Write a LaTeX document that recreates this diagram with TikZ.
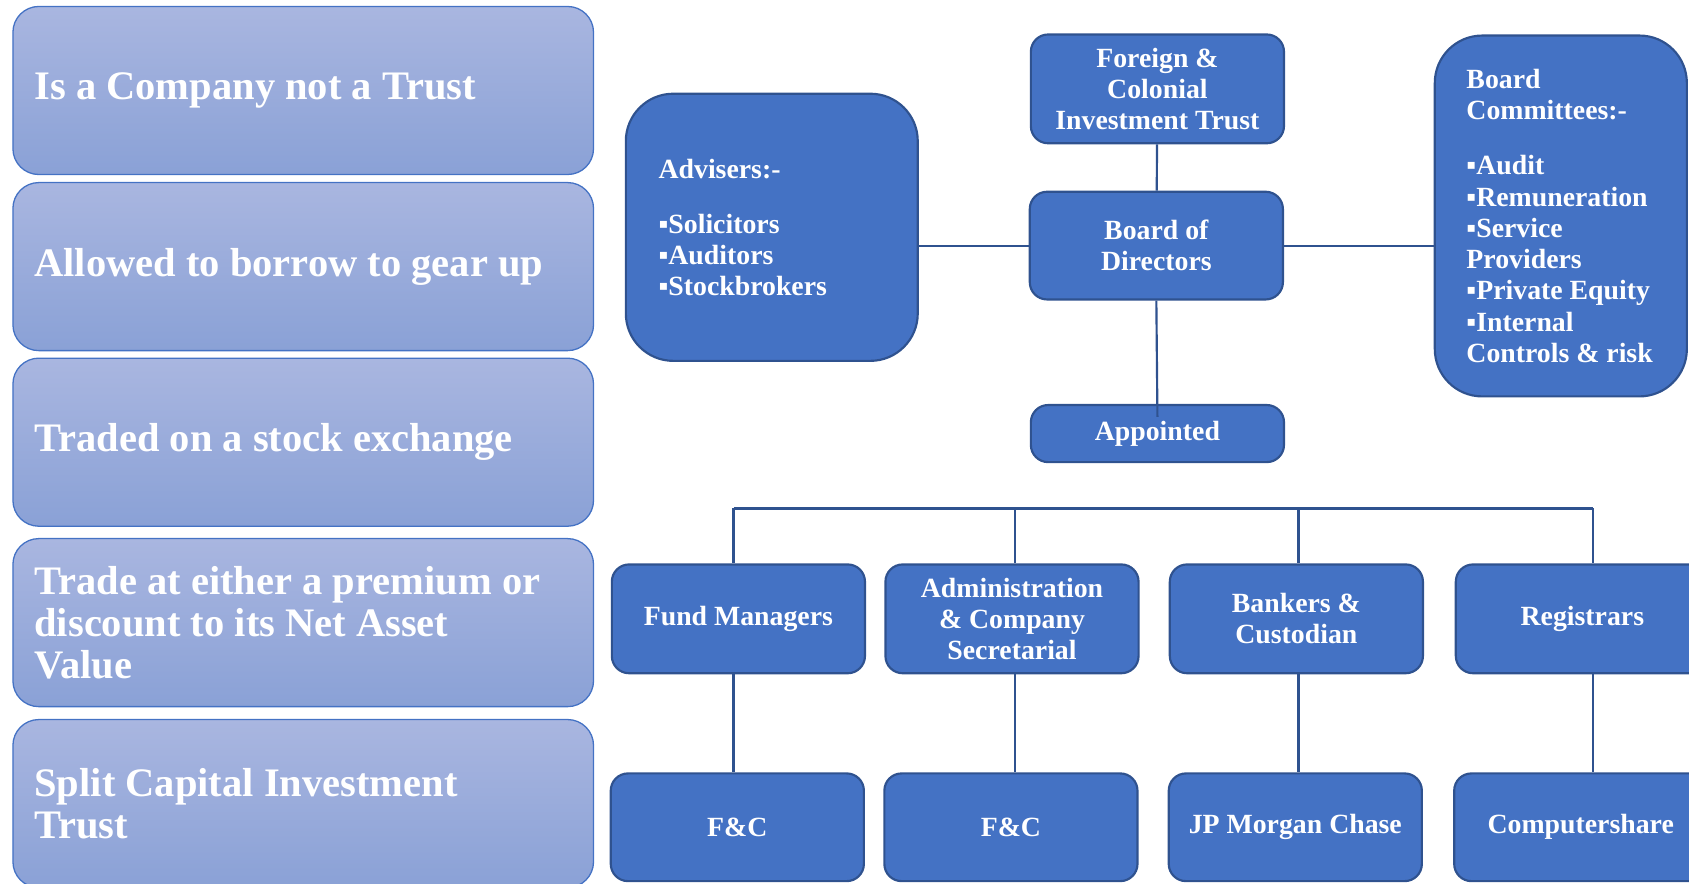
\documentclass[tikz,border=0pt]{standalone}
\usepackage{fontspec}
\setmainfont{Liberation Serif}
\definecolor{boxblue}{HTML}{4472C4}
\definecolor{edgeblue}{HTML}{2F528F}
\definecolor{paletop}{HTML}{A9B6E0}
\definecolor{palebot}{HTML}{8AA1D6}

\begin{document}
\begin{tikzpicture}[x=0.5pt,y=-0.5pt,
  pale/.style={draw=boxblue,line width=0.6pt,top color=paletop,bottom color=palebot,rounded corners=12pt,minimum width=269.5pt,minimum height=78pt,text width=249.5pt,inner xsep=10pt,align=flush left,text=white,font=\fontsize{18.8}{19.5}\selectfont\bfseries},
  dark/.style={draw=edgeblue,line width=1pt,fill=boxblue,rounded corners=8pt,minimum width=117.5pt,minimum height=50pt,align=center,text=white,font=\fontsize{12.9}{14.5}\selectfont\bfseries},
  list/.style={align=left,text=white,inner sep=0pt,font=\fontsize{12.9}{14.5}\selectfont\bfseries},
  link/.style={draw=edgeblue,line width=1pt}]
\useasboundingbox (0,0) rectangle (1568,820);
\clip (0,0) rectangle (1568,820);
\node[pale] (company) at (281.5,84) {Is a Company not a Trust};
\node[pale] (borrow) at (281.5,247.5) {Allowed to borrow to gear up};
\node[pale] (traded) at (281.5,410.5) {Traded on a stock exchange};
\node[pale] (premium) at (281.5,578) {Trade at either a premium or\\discount to its Net Asset\\Value};
\node[pale] (split) at (281.5,746) {Split Capital Investment\\Trust};
\node[dark,minimum width=135.5pt,minimum height=124pt,rounded corners=22pt] (advisers) at (716.5,211) {};
\node[list,anchor=west] (advisers-list) at ([xshift=15.5pt]advisers.west) {Advisers:-\\[11pt]▪Solicitors\\▪Auditors\\▪Stockbrokers};
\node[dark,minimum height=50.5pt] (foreign) at (1074.5,82.5) {Foreign \&\\Colonial\\Investment Trust};
\node[dark] (board) at (1073.5,228) {Board of\\Directors};
\node[dark,minimum height=26.5pt] (appointed) at (1074.5,402.5) {Appointed};
\node[dark,minimum width=117pt,minimum height=167.5pt,rounded corners=22pt] (committees) at (1449,200.5) {};
\node[list,anchor=west] (committees-list) at ([xshift=15pt]committees.west) {Board\\Committees:-\\[11pt]▪Audit\\▪Remuneration\\▪Service\\Providers\\▪Private Equity\\▪Internal\\Controls \& risk};
\node[dark,minimum height=50.5pt] (funds) at (685.5,574.5) {Fund Managers};
\node[dark,minimum height=50.5pt] (admin) at (939.5,574.5) {Administration\\\& Company\\Secretarial};
\node[dark,minimum height=50.5pt] (bankers) at (1203.5,574.5) {Bankers \&\\Custodian};
\node[dark,minimum height=50.5pt] (registrars) at (1469,574.5) {Registrars};
\node[dark] (fc-one) at (684.5,768) {F\&C};
\node[dark] (fc-two) at (938.5,768) {F\&C};
\node[dark] (jpm) at (1202.5,768) {JP Morgan Chase};
\node[dark] (cshare) at (1467.5,768) {Computershare};
\coordinate (bar) at (0,472);
\draw[link] (foreign) -- (board);
\draw[link] (advisers.east |- board) -- (board.west);
\draw[link] (board.east) -- (committees.west |- board);
\draw[link] (board.south) -- ([yshift=-6pt]appointed.north);
\draw[link,line width=1.4pt] ([xshift=-2.25pt]funds.north |- bar) -- ([xshift=5pt]registrars.north |- bar);
\foreach \top/\low/\dx in {funds/fc-one/-2.25pt,admin/fc-two/1.5pt,bankers/jpm/1pt,registrars/cshare/5pt} {
  \draw[link] ([xshift=\dx]\top.north |- bar) -- ([xshift=\dx]\top.north);
  \draw[link] ([xshift=\dx]\top.south) -- ([xshift=\dx]\top.south |- \low.north);
}
\end{tikzpicture}
\end{document}
